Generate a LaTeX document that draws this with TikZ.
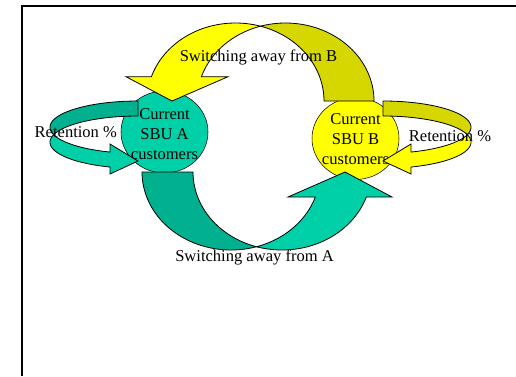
\documentclass[tikz,border=0pt]{standalone}
\usepackage{fontspec}
\setmainfont{Liberation Serif}
\usetikzlibrary{shapes.geometric}
\definecolor{tc}{RGB}{0,208,168}
\definecolor{td}{RGB}{0,176,142}
\definecolor{yc}{RGB}{255,255,0}
\definecolor{yd}{RGB}{214,214,0}
\tikzset{cust/.style={draw,ellipse,inner sep=0pt,minimum width=65.25pt,minimum height=61.5pt},
 band/.style={draw,line width=.6pt,line join=miter},
 lbl/.style={align=center,inner sep=0pt,font=\fontsize{12.4}{15}\selectfont}}
\begin{document}
\begin{tikzpicture}[x=.75pt,y=-.75pt,variable=\t,samples=40]
\useasboundingbox (0,0) rectangle (516,376);
\draw[line width=1.2pt] (22,376)--(22,6)--(516,6);
\node[cust,fill=tc] (A) at (164.5,132) {};
\node[cust,fill=yc] (B) at (355.5,138.5) {};
\draw[band,fill=yd] plot[domain=0:106.41] ({285.5+88.5*cos(\t)},{101-78*sin(\t)}) -- plot[domain=73.59:0] ({235.5+88.5*cos(\t)},{101-78*sin(\t)}) -- cycle;
\draw[band,fill=yc] plot[domain=73.59:161.85] ({235.5+88.5*cos(\t)},{101-78*sin(\t)}) -- (126,76.7) -- (172,101) -- (228,76.7) -- plot[domain=161.85:106.41] ({285.5+88.5*cos(\t)},{101-78*sin(\t)}) -- cycle;
\draw[band,fill=td] plot[domain=180:73.35] ({231+89*cos(\t)},{172+78*sin(\t)}) -- plot[domain=106.65:180] ({282+89*cos(\t)},{172+78*sin(\t)}) -- cycle;
\draw[band,fill=tc] plot[domain=106.65:18.7] ({282+89*cos(\t)},{172+78*sin(\t)}) -- (392,197) -- (345,172) -- (288,197) -- plot[domain=18.7:73.35] ({231+89*cos(\t)},{172+78*sin(\t)}) -- cycle;
\draw[band,fill=td] plot[domain=90:196.64] ({138+88*cos(\t)},{127.2-26.2*sin(\t)}) -- plot[domain=163.36:90] ({138+88*cos(\t)},{142.2-26.2*sin(\t)}) -- cycle;
\draw[band,fill=tc] plot[domain=163.36:251.45] ({138+88*cos(\t)},{142.2-26.2*sin(\t)}) -- (110,174) -- (138,161) -- (110,144) -- plot[domain=251.45:196.64] ({138+88*cos(\t)},{127.2-26.2*sin(\t)}) -- cycle;
\node[lbl] (Btext) at (355.5,139) {Current\\SBU B\\customers};
\draw[band,fill=yd] plot[domain=90:196.64] ({383-88*cos(\t)},{127.2-26.2*sin(\t)}) -- plot[domain=163.36:90] ({383-88*cos(\t)},{142.2-26.2*sin(\t)}) -- cycle;
\draw[band,fill=yc] plot[domain=163.36:251.45] ({383-88*cos(\t)},{142.2-26.2*sin(\t)}) -- (411,174) -- (383,161) -- (411,144) -- plot[domain=251.45:196.64] ({383-88*cos(\t)},{127.2-26.2*sin(\t)}) -- cycle;
\node[lbl] (Atext) at (164.5,134) {Current\\SBU A\\customers};
\node[lbl] (swB) at (258.5,57) {Switching away from B};
\node[lbl] (swA) at (254.5,257) {Switching away from A};
\node[lbl] (retA) at (75.8,132) {Retention \%};
\node[lbl] (retB) at (450,136) {Retention \%};
\end{tikzpicture}
\end{document}
